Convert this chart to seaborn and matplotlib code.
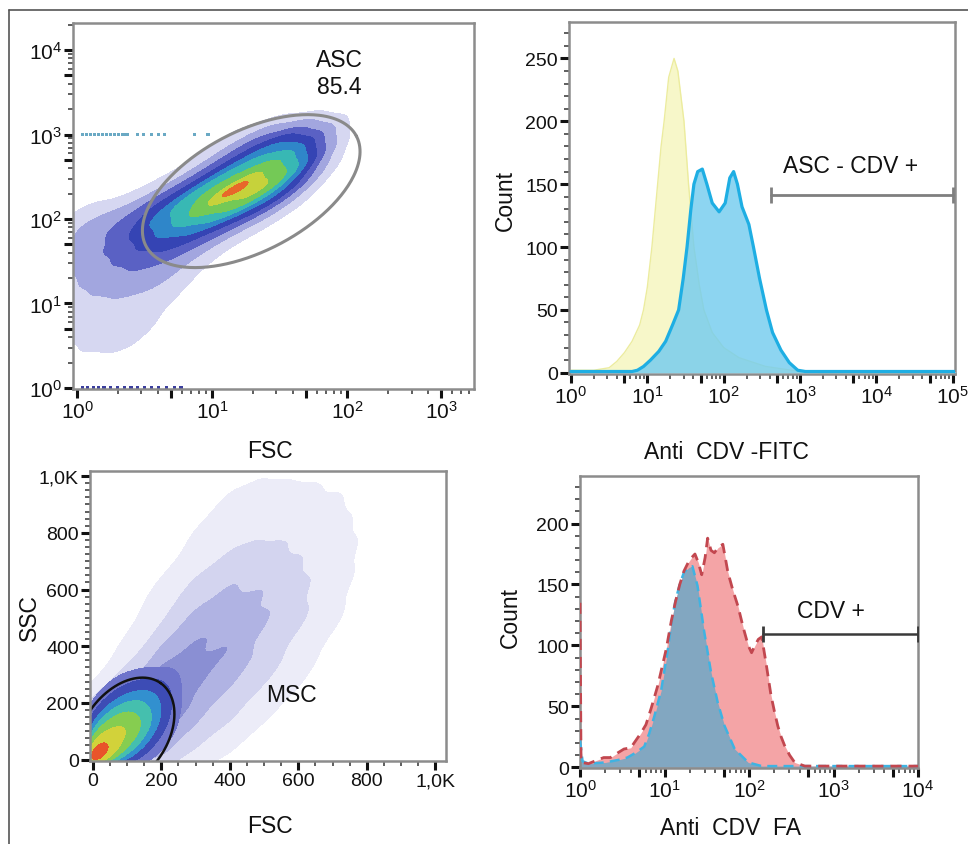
import numpy as np
import pandas as pd
import matplotlib
matplotlib.use("Agg")
import matplotlib.pyplot as plt
from matplotlib.lines import Line2D
from matplotlib.ticker import LogLocator, MultipleLocator, NullFormatter
import seaborn as sns

# ============================ DATA ============================
# Panel A: ASC, FSC vs SSC (log10 grid of estimated event density)
asc_fsc_log = [0.0, 0.2, 0.4, 0.6, 0.8, 1.0, 1.2, 1.4, 1.6, 1.8]
asc_ssc_log = [3.0, 2.8, 2.6, 2.4, 2.2, 2.0, 1.8, 1.6, 1.4, 1.2, 1.0, 0.8, 0.6, 0.4, 0.2]
asc_density = [
    [0.0, 0.0, 0.0, 0.0, 0.0, 0.1, 0.5, 1.6, 2.4, 1.4],
    [0.0, 0.0, 0.0, 0.0, 0.0, 0.4, 1.6, 3.4, 3.8, 1.5],
    [0.0, 0.0, 0.0, 0.0, 0.3, 1.6, 3.8, 5.6, 4.4, 0.8],
    [0.0, 0.0, 0.0, 0.4, 1.6, 4.4, 7.2, 6.8, 2.4, 0.2],
    [0.1, 0.2, 0.6, 2.0, 4.4, 6.8, 6.0, 2.6, 0.6, 0.0],
    [0.8, 1.0, 1.8, 3.2, 4.2, 3.6, 1.8, 0.6, 0.0, 0.0],
    [1.1, 1.3, 2.0, 2.8, 2.6, 1.4, 0.4, 0.0, 0.0, 0.0],
    [1.1, 1.3, 1.7, 1.9, 1.3, 0.4, 0.0, 0.0, 0.0, 0.0],
    [1.0, 1.2, 1.4, 1.2, 0.6, 0.1, 0.0, 0.0, 0.0, 0.0],
    [0.8, 0.9, 1.0, 0.8, 0.3, 0.0, 0.0, 0.0, 0.0, 0.0],
    [0.6, 0.6, 0.6, 0.4, 0.1, 0.0, 0.0, 0.0, 0.0, 0.0],
    [0.5, 0.5, 0.5, 0.3, 0.0, 0.0, 0.0, 0.0, 0.0, 0.0],
    [0.4, 0.4, 0.4, 0.15, 0.0, 0.0, 0.0, 0.0, 0.0, 0.0],
    [0.3, 0.3, 0.3, 0.1, 0.0, 0.0, 0.0, 0.0, 0.0, 0.0],
    [0.1, 0.1, 0.1, 0.0, 0.0, 0.0, 0.0, 0.0, 0.0, 0.0],
]
# events piled at the SSC ceiling (10^3) and floor (10^0)
asc_sat_fsc_log = [0.04, 0.07, 0.10, 0.13, 0.16, 0.19, 0.22, 0.25, 0.28, 0.31,
                   0.34, 0.37, 0.45, 0.49, 0.55, 0.60, 0.65, 0.87, 0.97]
asc_floor_fsc_log = [0.04, 0.08, 0.12, 0.16, 0.20, 0.25, 0.30, 0.35, 0.40,
                     0.45, 0.50, 0.55, 0.60, 0.66, 0.72, 0.77]
asc_gate_name = "ASC"
asc_gate_pct = "85.4"

# Panel B: Anti CDV-FITC histograms (log10 intensity, count)
fitc_ctrl_log = [0.0, 0.3, 0.5, 0.6, 0.7, 0.8, 0.9, 0.95, 1.0, 1.06, 1.12, 1.18, 1.22,
                 1.28, 1.35, 1.40, 1.45, 1.48, 1.54, 1.61, 1.68, 1.74, 1.85, 2.0, 2.2,
                 2.55, 3.0, 3.3, 5.05]
fitc_ctrl_count = [2, 2, 4, 9, 16, 25, 38, 50, 68, 100, 140, 180, 200,
                   235, 250, 240, 215, 200, 150, 100, 70, 50, 32, 20, 12,
                   5, 1, 0, 0]
fitc_asc_log = [0.0, 0.8, 0.87, 0.95, 1.04, 1.15, 1.24, 1.33, 1.41, 1.47, 1.52, 1.57,
                1.61, 1.66, 1.72, 1.78, 1.85, 1.94, 2.02, 2.08, 2.13, 2.18, 2.24, 2.33,
                2.39, 2.47, 2.56, 2.64, 2.75, 2.86, 2.97, 3.07, 5.05]
fitc_asc_count = [1, 1, 2, 5, 10, 17, 25, 38, 50, 75, 100, 130,
                  150, 160, 162, 150, 135, 128, 135, 155, 160, 150, 132, 118,
                  100, 75, 50, 32, 18, 8, 2, 1, 1]
fitc_gate_label = "ASC - CDV +"
fitc_gate_range_log = [2.62, 5.0]
fitc_gate_count = 141

# Panel C: MSC, FSC vs SSC (linear grid of estimated event density)
msc_outer_fsc = [0, 100, 200, 300, 400, 500, 600, 700, 800, 900]
msc_outer_ssc = [0, 100, 200, 300, 400, 500, 600, 700, 800, 900, 1000]
msc_outer_density = [
    [2.0, 2.0, 1.0, 0.3, 0.1, 0.0, 0.0, 0.0, 0.0, 0.0],
    [2.0, 3.0, 2.0, 0.9, 0.4, 0.1, 0.0, 0.0, 0.0, 0.0],
    [0.6, 2.5, 2.6, 1.6, 0.8, 0.3, 0.1, 0.0, 0.0, 0.0],
    [0.05, 0.6, 2.0, 2.1, 1.3, 0.6, 0.2, 0.05, 0.0, 0.0],
    [0.0, 0.2, 1.0, 1.8, 1.7, 0.9, 0.4, 0.1, 0.0, 0.0],
    [0.0, 0.1, 0.4, 1.2, 1.5, 1.1, 0.6, 0.2, 0.05, 0.0],
    [0.0, 0.05, 0.2, 0.7, 1.1, 1.0, 0.6, 0.25, 0.05, 0.0],
    [0.0, 0.0, 0.1, 0.3, 0.6, 0.7, 0.5, 0.3, 0.1, 0.0],
    [0.0, 0.0, 0.05, 0.15, 0.35, 0.45, 0.4, 0.25, 0.1, 0.02],
    [0.0, 0.0, 0.0, 0.1, 0.2, 0.3, 0.3, 0.2, 0.08, 0.02],
    [0.0, 0.0, 0.0, 0.05, 0.12, 0.15, 0.12, 0.08, 0.03, 0.0],
]
msc_core_fsc = [0, 40, 80, 120, 160, 200, 240]
msc_core_ssc = [0, 40, 80, 120, 160, 200, 240, 280, 320]
msc_core_density = [
    [14.0, 7.0, 3.6, 2.0, 0.9, 0.3, 0.1],
    [8.0, 6.8, 5.0, 3.4, 1.8, 0.7, 0.2],
    [5.0, 6.0, 6.0, 4.6, 3.0, 1.4, 0.5],
    [3.0, 4.8, 5.6, 5.0, 3.8, 2.0, 0.9],
    [1.6, 3.4, 4.4, 4.4, 3.6, 2.4, 1.1],
    [0.8, 2.0, 3.2, 3.6, 3.2, 2.4, 1.3],
    [0.3, 1.0, 1.8, 2.4, 2.6, 2.0, 1.3],
    [0.1, 0.5, 1.0, 1.4, 1.6, 1.5, 1.1],
    [0.0, 0.2, 0.4, 0.6, 0.8, 0.8, 0.8],
]
msc_label = "MSC"

# Panel D: Anti CDV FA histograms (log10 intensity, count)
fa_ctrl_log = [0.0, 0.03, 0.1, 0.3, 0.45, 0.56, 0.66, 0.76, 0.82, 0.88, 0.96, 1.04,
               1.08, 1.13, 1.18, 1.23, 1.29, 1.33, 1.39, 1.43, 1.47, 1.55, 1.63, 1.71,
               1.83, 1.99, 2.15, 2.33, 4.0]
fa_ctrl_count = [22, 5, 3, 4, 6, 8, 12, 17, 28, 42, 63, 97,
                 118, 137, 150, 160, 164, 165, 149, 130, 111, 78, 53, 34,
                 15, 4, 1, 1, 1]
fa_inf_log = [0.0, 0.012, 0.1, 0.17, 0.28, 0.36, 0.45, 0.52, 0.60, 0.66, 0.72, 0.78,
              0.84, 0.92, 0.98, 1.02, 1.08, 1.13, 1.18, 1.23, 1.28, 1.32, 1.36, 1.40,
              1.44, 1.48, 1.51, 1.55, 1.59, 1.63, 1.69, 1.75, 1.81, 1.87, 1.93, 1.99,
              2.03, 2.07, 2.11, 2.15, 2.20, 2.26, 2.30, 2.34, 2.38, 2.42, 2.48, 2.54,
              2.66, 4.0]
fa_inf_count = [135, 4, 3, 5, 8, 8, 12, 15, 16, 22, 28, 35,
                48, 67, 85, 97, 120, 136, 150, 161, 168, 172, 175, 168,
                158, 172, 188, 178, 176, 180, 183, 160, 145, 132, 115, 100,
                94, 100, 105, 107, 86, 59, 46, 34, 25, 18, 10, 4,
                1, 1]
fa_gate_label = "CDV +"
fa_gate_range_log = [2.17, 4.0]
fa_gate_count = 109

# tick labels
pow_labels = [r"$\mathregular{10^{%d}}$" % k for k in range(6)]
lin_labels = ["0", "200", "400", "600", "800", "1,0K"]

# ============================ STYLE ============================
sns.set_theme(style="white")
plt.rcParams["font.family"] = ["Liberation Sans", "DejaVu Sans"]
plt.rcParams["mathtext.fontset"] = "custom"
plt.rcParams["mathtext.rm"] = "Liberation Sans"
plt.rcParams["mathtext.it"] = "Liberation Sans:italic"
plt.rcParams["mathtext.bf"] = "Liberation Sans:bold"
plt.rcParams["text.color"] = "#111111"
plt.rcParams["axes.labelcolor"] = "#111111"

LOG_TICK_FS = 15
LIN_TICK_FS = 14
LABEL_FS = 16.5
ANNOT_FS = 16.5

fig = plt.figure(figsize=(9.68, 8.45), dpi=100)
fig.patch.set_facecolor("white")
axA = fig.add_axes([0.0754, 0.5385, 0.4143, 0.4331])
axB = fig.add_axes([0.5878, 0.5562, 0.3988, 0.4166])
axC = fig.add_axes([0.0930, 0.0982, 0.3678, 0.3432])
axD = fig.add_axes([0.5992, 0.0899, 0.3492, 0.3456])

# outer frame lines (top and left)
fig.add_artist(Line2D([9 / 968, 1.0], [1 - 11 / 845, 1 - 11 / 845], color="#555555", lw=1.2))
fig.add_artist(Line2D([9 / 968, 9 / 968], [0.0, 1 - 11 / 845], color="#555555", lw=1.2))


def style_axes(ax, xfs, yfs):
    for s in ax.spines.values():
        s.set_visible(True)
        s.set_color("#8c8c8c")
        s.set_linewidth(1.8)
    ax.tick_params(which="both", bottom=True, left=True, top=False, right=False)
    ax.tick_params(which="major", direction="out", length=6.5, width=2.2,
                   color="#111111", pad=1.5, labelcolor="#111111")
    ax.tick_params(which="minor", direction="out", length=3.5, width=1.1, color="#333333")
    ax.tick_params(axis="x", labelsize=xfs)
    ax.tick_params(axis="y", labelsize=yfs)
    ax.grid(False)


# ----------------------- Panel A -----------------------
rows = []
for yi, ly in enumerate(asc_ssc_log):
    for xi, lx in enumerate(asc_fsc_log):
        w = asc_density[yi][xi]
        if w > 0:
            rows.append((10 ** lx, 10 ** ly, w))
df_asc = pd.DataFrame(rows, columns=["FSC", "SSC", "w"])
asc_levels = [0.04, 0.14, 0.27, 0.39, 0.51, 0.63, 0.77, 0.91, 0.985, 1.0]
asc_colors = ["#d6d7f1", "#a2a6df", "#5a61c4", "#3544b4", "#2f86c9",
              "#38b8b4", "#74c956", "#c6d23b", "#e8682a"]
sns.kdeplot(data=df_asc, x="FSC", y="SSC", weights="w", log_scale=True, fill=True,
            levels=asc_levels, color="#4a53bd", colors=asc_colors,
            bw_method=0.3, ax=axA)
sat = pd.DataFrame({"FSC": [10 ** v for v in asc_sat_fsc_log], "SSC": 1000.0})
flo = pd.DataFrame({"FSC": [10 ** v for v in asc_floor_fsc_log], "SSC": 1.0})
sns.scatterplot(data=sat, x="FSC", y="SSC", marker="s", s=5, color="#6aa9c4",
                edgecolor="none", ax=axA)
sns.scatterplot(data=flo, x="FSC", y="SSC", marker="s", s=5, color="#3b3f9e",
                edgecolor="none", ax=axA)
# gate ellipse (log units)
gA = dict(cx=1.29, cy=2.33, ux=0.778, uy=0.654, vx=-0.21, vy=0.626)
t = np.linspace(0, 2 * np.pi, 300)
axA.plot(10 ** (gA["cx"] + gA["ux"] * np.cos(t) + gA["vx"] * np.sin(t)),
         10 ** (gA["cy"] + gA["uy"] * np.cos(t) + gA["vy"] * np.sin(t)),
         color="#8a8a8a", lw=2.2)
axA.set_xscale("log")
axA.set_yscale("log")
axA.set_xlim(10 ** -0.03, 10 ** 2.94)
axA.set_ylim(10 ** -0.012, 10 ** 4.32)
axA.set_xticks([1, 5, 10, 50, 100, 500],
               [pow_labels[0], "", pow_labels[1], "", pow_labels[2], pow_labels[3]])
axA.set_yticks([1, 5, 10, 50, 100, 500, 1000, 5000, 10000],
               [pow_labels[0], "", pow_labels[1], "", pow_labels[2], "", pow_labels[3], "", pow_labels[4]])
for a in (axA.xaxis, axA.yaxis):
    a.set_minor_locator(LogLocator(base=10, subs=[2, 3, 4, 6, 7, 8, 9], numticks=20))
    a.set_minor_formatter(NullFormatter())
style_axes(axA, LOG_TICK_FS, LOG_TICK_FS)
axA.text(10 ** 1.94, 10 ** 3.89, asc_gate_name, ha="center", va="center", fontsize=ANNOT_FS)
axA.text(10 ** 1.94, 10 ** 3.57, asc_gate_pct, ha="center", va="center", fontsize=ANNOT_FS)
axA.set_xlabel("FSC", fontsize=LABEL_FS, va="center")
axA.xaxis.set_label_coords(0.491, -0.169)
axA.set_ylabel("")

# ----------------------- Panel B -----------------------
axB.set_xscale("log")
xc = np.power(10.0, fitc_ctrl_log)
xa = np.power(10.0, fitc_asc_log)
axB.fill_between(xc, fitc_ctrl_count, 0, color="#f7f7c9", lw=0, zorder=1)
sns.lineplot(x=xc, y=fitc_ctrl_count, color="#ecec9e", lw=1.0, ax=axB, zorder=2)
axB.fill_between(xa, fitc_asc_count, 0, color="#74ccef", alpha=0.82, lw=0, zorder=3)
sns.lineplot(x=xa, y=fitc_asc_count, color="#1eaee3", lw=2.3, ax=axB, zorder=4)
axB.plot([10 ** fitc_gate_range_log[0], 10 ** fitc_gate_range_log[1]],
         [fitc_gate_count, fitc_gate_count], color="#7f7f7f", lw=2,
         marker="|", markersize=11, markeredgewidth=2, zorder=5)
axB.text(10 ** 3.66, 165, fitc_gate_label, ha="center", va="center", fontsize=ANNOT_FS)
axB.set_xlim(10 ** -0.026, 10 ** 5.03)
axB.set_ylim(-1, 279)
axB.set_xticks([1, 5, 10, 50, 100, 500, 1e3, 5e3, 1e4, 5e4, 1e5],
               [pow_labels[0], "", pow_labels[1], "", pow_labels[2], "", pow_labels[3], "",
                pow_labels[4], "", pow_labels[5]])
axB.xaxis.set_minor_locator(LogLocator(base=10, subs=[2, 3, 4, 6, 7, 8, 9], numticks=20))
axB.xaxis.set_minor_formatter(NullFormatter())
axB.set_yticks([0, 50, 100, 150, 200, 250])
axB.yaxis.set_minor_locator(MultipleLocator(10))
style_axes(axB, LOG_TICK_FS, LIN_TICK_FS)
axB.set_ylabel("Count", fontsize=LABEL_FS, va="center", ha="center")
axB.yaxis.set_label_coords(-0.166, 0.497)
axB.set_xlabel("Anti  CDV -FITC", fontsize=LABEL_FS, va="center")
axB.xaxis.set_label_coords(0.407, -0.219)

# ----------------------- Panel C -----------------------
rows = []
for yi, yv in enumerate(msc_outer_ssc):
    for xi, xv in enumerate(msc_outer_fsc):
        w = msc_outer_density[yi][xi]
        if w > 0:
            rows.append((xv, yv, w))
df_out = pd.DataFrame(rows, columns=["FSC", "SSC", "w"])
rows = []
for yi, yv in enumerate(msc_core_ssc):
    for xi, xv in enumerate(msc_core_fsc):
        w = msc_core_density[yi][xi]
        if w > 0:
            rows.append((xv, yv, w))
df_core = pd.DataFrame(rows, columns=["FSC", "SSC", "w"])
sns.kdeplot(data=df_out, x="FSC", y="SSC", weights="w", fill=True,
            levels=[0.05, 0.2, 0.42, 0.68, 1.0], color="#9499d8",
            colors=["#ececf8", "#d3d4ef", "#b0b3e3", "#8a8fd3"], bw_method=0.26, ax=axC)
sns.kdeplot(data=df_core, x="FSC", y="SSC", weights="w", fill=True,
            levels=[0.07, 0.18, 0.32, 0.46, 0.62, 0.8, 0.95, 1.0], color="#4a52bb",
            colors=["#6e74cb", "#3d4cb5", "#3290cf", "#45bfae", "#86cd50", "#d2d23a", "#e8542a"],
            bw_method=0.4, ax=axC)
gC = dict(cx=94, cy=91, ux=104, uy=179, vx=-100, vy=85)
axC.plot(gC["cx"] + gC["ux"] * np.cos(t) + gC["vx"] * np.sin(t),
         gC["cy"] + gC["uy"] * np.cos(t) + gC["vy"] * np.sin(t),
         color="#111111", lw=1.8)
axC.text(580, 228, msc_label, ha="center", va="center", fontsize=ANNOT_FS)
axC.set_xlim(-8, 1031)
axC.set_ylim(-5, 1018)
axC.set_xticks([0, 200, 400, 600, 800, 1000], lin_labels)
axC.set_yticks([0, 200, 400, 600, 800, 1000], lin_labels)
axC.xaxis.set_minor_locator(MultipleLocator(50))
axC.yaxis.set_minor_locator(MultipleLocator(25))
style_axes(axC, LIN_TICK_FS, LIN_TICK_FS)
axC.set_xlabel("FSC", fontsize=LABEL_FS, va="center")
axC.xaxis.set_label_coords(0.506, -0.221)
axC.set_ylabel("SSC", fontsize=LABEL_FS, va="center", ha="center")
axC.yaxis.set_label_coords(-0.169, 0.497)

# ----------------------- Panel D -----------------------
axD.set_xscale("log")
xi_ = np.power(10.0, fa_inf_log)
xc_ = np.power(10.0, fa_ctrl_log)
axD.fill_between(xi_, fa_inf_count, 0, color="#f4a4a6", lw=0, zorder=1)
axD.fill_between(xc_, fa_ctrl_count, 0, color="#82a7c1", lw=0, zorder=2)
sns.lineplot(x=xc_, y=fa_ctrl_count, color="#3fb3e2", lw=1.8, ax=axD, zorder=3,
             linestyle=(0, (4, 2.5)))
sns.lineplot(x=xi_, y=fa_inf_count, color="#c2474f", lw=2.0, ax=axD, zorder=4,
             linestyle=(0, (4, 2.5)))
axD.plot([10 ** fa_gate_range_log[0], 10 ** fa_gate_range_log[1]],
         [fa_gate_count, fa_gate_count], color="#3a3a3a", lw=1.8,
         marker="|", markersize=11, markeredgewidth=2, zorder=5)
axD.text(10 ** 2.97, 129, fa_gate_label, ha="center", va="center", fontsize=ANNOT_FS)
axD.set_xlim(1, 1e4)
axD.set_ylim(-0.6, 239)
axD.set_xticks([1, 5, 10, 50, 100, 500, 1e3, 5e3, 1e4],
               [pow_labels[0], "", pow_labels[1], "", pow_labels[2], "", pow_labels[3], "",
                pow_labels[4]])
axD.xaxis.set_minor_locator(LogLocator(base=10, subs=[2, 3, 4, 6, 7, 8, 9], numticks=20))
axD.xaxis.set_minor_formatter(NullFormatter())
axD.set_yticks([0, 50, 100, 150, 200])
axD.yaxis.set_minor_locator(MultipleLocator(10))
style_axes(axD, LOG_TICK_FS, LIN_TICK_FS)
axD.set_ylabel("Count", fontsize=LABEL_FS, va="center", ha="center")
axD.yaxis.set_label_coords(-0.207, 0.52)
axD.set_xlabel("Anti  CDV  FA", fontsize=LABEL_FS, va="center")
axD.xaxis.set_label_coords(0.444, -0.202)

fig.savefig("out.png", dpi=100, facecolor="white")
